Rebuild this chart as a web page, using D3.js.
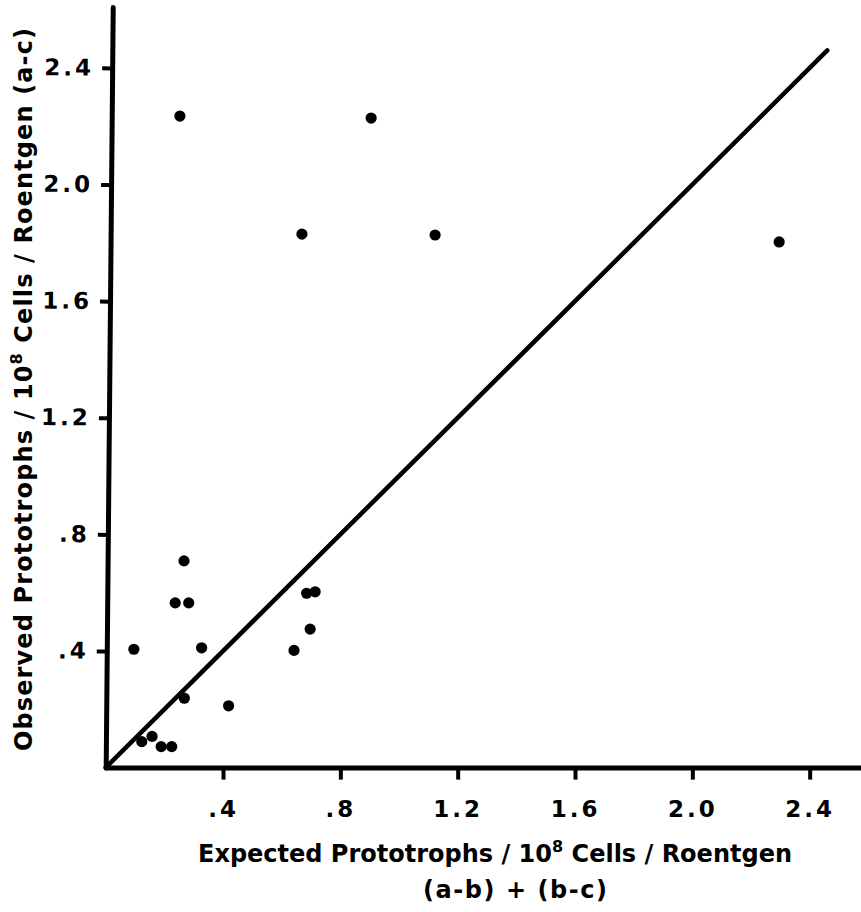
<!DOCTYPE html>
<html>
<head>
<meta charset="utf-8">
<script src="https://cdn.jsdelivr.net/npm/d3@7"></script>
<style>
  body { margin: 0; background: #fff; }
  svg { display: block; }
  text { font-family: "DejaVu Sans", sans-serif; font-weight: bold; fill: #000; }
</style>
</head>
<body>
<svg id="chart" width="861" height="912"></svg>
<script>
// expected vs observed prototrophs per 10^8 cells per roentgen
const expected = [0.253, 0.905, 0.669, 1.123, 2.296, 0.267, 0.237, 0.283, 0.096, 0.327,
                  0.268, 0.419, 0.123, 0.158, 0.189, 0.225, 0.685, 0.714, 0.697, 0.642];
const observed = [2.235, 2.228, 1.830, 1.827, 1.803, 0.709, 0.565, 0.565, 0.406, 0.411,
                  0.238, 0.212, 0.089, 0.107, 0.072, 0.072, 0.598, 0.603, 0.475, 0.402];

const tickValues = [0.4, 0.8, 1.2, 1.6, 2.0, 2.4];
const tickLabels = [".4", ".8", "1.2", "1.6", "2.0", "2.4"];
const lineEnd = 2.46; // y = x reference line

var svg = d3.select("#chart");
const width = +svg.attr("width");
const height = +svg.attr("height");

// origin of the axes in the picture
const x0 = 105.7, y0 = 767.6;

const xScale = d3.scaleLinear().domain([0, 2.575]).range([x0, width]);
const yScale = d3.scaleLinear().domain([0, 2.609]).range([y0, 7]);

const fmt = d => tickLabels[tickValues.indexOf(d)];

// x axis, ticks pointing down
var bottomAxis = d3.axisBottom(xScale)
    .tickValues(tickValues)
    .tickFormat(fmt)
    .tickSize(12)
    .tickSizeOuter(0)
    .tickPadding(18);
var gx = svg.append("g")
    .attr("transform", "translate(0," + y0 + ")")
    .call(bottomAxis);

// y axis, the scan leans a little to the right at the top
var leftAxis = d3.axisLeft(yScale)
    .tickValues(tickValues)
    .tickFormat(fmt)
    .tickSize(10)
    .tickSizeOuter(0)
    .tickPadding(8);
var gy = svg.append("g")
    .attr("transform", "rotate(0.53," + x0 + "," + y0 + ") translate(" + x0 + ",0)")
    .call(leftAxis);

[gx, gy].forEach(g => {
    g.select(".domain").attr("stroke", "#000").attr("stroke-width", 5).attr("stroke-linecap", "round");
    g.selectAll(".tick line").attr("stroke", "#000").attr("stroke-width", 4);
    g.selectAll(".tick text")
        .style("font-size", "23px")
        .style("font-family", "'DejaVu Sans', sans-serif")
        .style("font-weight", "bold")
        .attr("letter-spacing", 3)
        .attr("fill", "#000");
});
gx.selectAll(".tick text").attr("dy", "0.85em");

// reference line y = x
svg.append("line")
    .attr("x1", xScale(0)).attr("y1", yScale(0))
    .attr("x2", xScale(lineEnd)).attr("y2", yScale(lineEnd))
    .attr("stroke", "#000")
    .attr("stroke-width", 4.5)
    .attr("stroke-linecap", "round");

// data points
svg.selectAll("circle.pt")
    .data(expected.map((e, i) => ({ e: e, o: observed[i] })))
    .enter().append("circle")
    .attr("class", "pt")
    .attr("cx", d => xScale(d.e))
    .attr("cy", d => yScale(d.o))
    .attr("r", 5.6)
    .attr("fill", "#000");

// x axis labels
var xl = svg.append("text")
    .attr("x", 198).attr("y", 862)
    .attr("textLength", 594).attr("lengthAdjust", "spacing")
    .style("font-size", "24px");
xl.append("tspan").text("Expected  Prototrophs / 10");
xl.append("tspan").attr("dy", -10).style("font-size", "16px").text("8");
xl.append("tspan").attr("dy", 10).text(" Cells / Roentgen");

svg.append("text")
    .attr("x", 423).attr("y", 898)
    .attr("textLength", 184).attr("lengthAdjust", "spacing")
    .style("font-size", "24px")
    .text("(a-b) + (b-c)");

// y axis label, rotated
var yl = svg.append("text")
    .attr("transform", "translate(32,751) rotate(-90)")
    .attr("x", 0).attr("y", 0)
    .attr("textLength", 723).attr("lengthAdjust", "spacing")
    .style("font-size", "24px");
yl.append("tspan").text("Observed   Prototrophs / 10");
yl.append("tspan").attr("dy", -10).style("font-size", "16px").text("8");
yl.append("tspan").attr("dy", 10).text(" Cells / Roentgen   (a-c)");
</script>
</body>
</html>
